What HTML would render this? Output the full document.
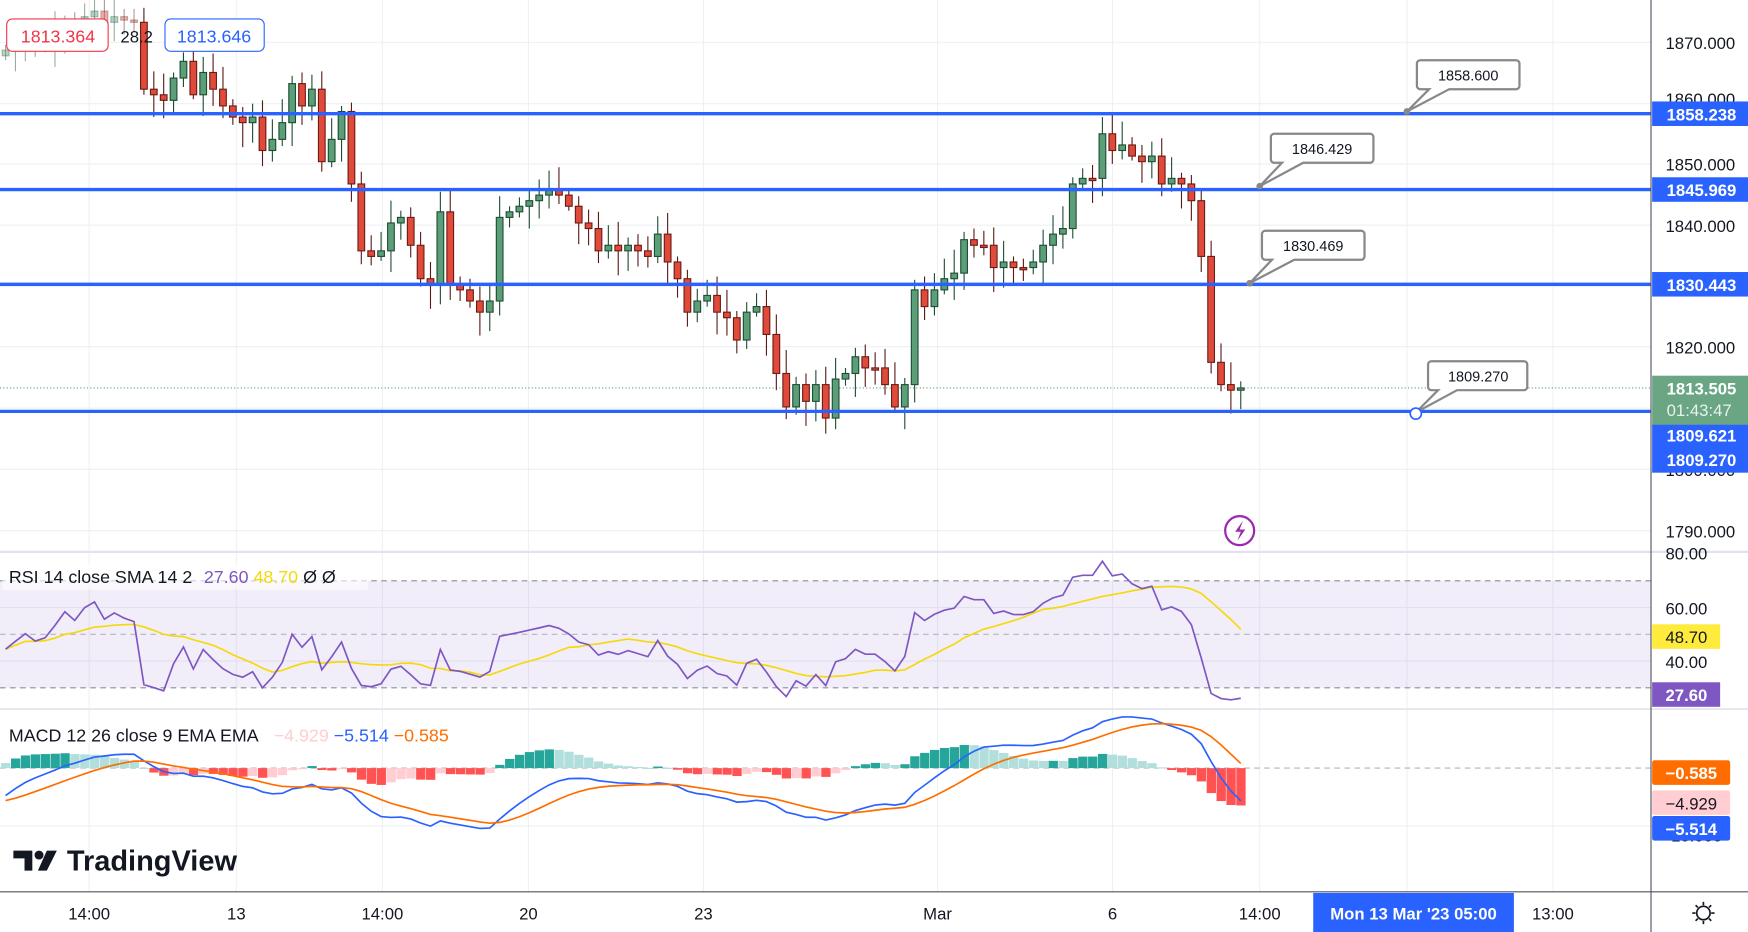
<!DOCTYPE html>
<html><head><meta charset="utf-8"><style>
html,body{margin:0;padding:0;background:#fff;overflow:hidden}
svg{display:block;font-family:"Liberation Sans",sans-serif}
</style></head><body>
<svg id="s" width="1748" height="932" viewBox="0 0 1568 836" xmlns="http://www.w3.org/2000/svg">
<rect width="1568" height="836" fill="#fff"/>
<g id="grid" stroke="#eef0f3" stroke-width="1"></g>
<rect x="0" y="521" width="1481" height="96" fill="#7e57c2" opacity="0.1"/>
<line x1="0" y1="521" x2="1481" y2="521" stroke="#8a8d99" stroke-dasharray="5,4"/>
<line x1="0" y1="569" x2="1481" y2="569" stroke="#b2b5be" stroke-dasharray="5,4"/>
<line x1="0" y1="617" x2="1481" y2="617" stroke="#8a8d99" stroke-dasharray="5,4"/>
<line x1="0" y1="689" x2="1481" y2="689" stroke="#b2b5be" stroke-dasharray="5,4"/>
<line x1="0" y1="348" x2="1481" y2="348" stroke="#5b9e77" stroke-dasharray="1,2"/>
<g id="candles"></g>
<g id="rsi"></g>
<g id="macd"></g>
<g stroke="#2962ff" stroke-width="3">
<line x1="0" y1="102" x2="1481" y2="102"/><line x1="0" y1="170" x2="1481" y2="170"/>
<line x1="0" y1="255" x2="1481" y2="255"/><line x1="0" y1="369" x2="1481" y2="369"/>
</g>
<g font-size="13" fill="#131722" stroke="none" text-anchor="middle">
<path d="M1274,54 h86 a3,3 0 0 1 3,3 v20 a3,3 0 0 1 -3,3 h-60 l-38,20 l20,-20 h-8 a3,3 0 0 1 -3,-3 v-20 a3,3 0 0 1 3,-3z" fill="#fff" stroke="#888" stroke-width="2"/>
<text x="1317" y="72">1858.600</text>
<path d="M1143,120 h86 a3,3 0 0 1 3,3 v20 a3,3 0 0 1 -3,3 h-60 l-39,21 l20,-21 h-7 a3,3 0 0 1 -3,-3 v-20 a3,3 0 0 1 3,-3z" fill="#fff" stroke="#888" stroke-width="2"/>
<text x="1186" y="138">1846.429</text>
<path d="M1135,207 h86 a3,3 0 0 1 3,3 v20 a3,3 0 0 1 -3,3 h-60 l-40,21 l20,-21 h-6 a3,3 0 0 1 -3,-3 v-20 a3,3 0 0 1 3,-3z" fill="#fff" stroke="#888" stroke-width="2"/>
<text x="1178" y="225">1830.469</text>
<path d="M1284,324 h83 a3,3 0 0 1 3,3 v20 a3,3 0 0 1 -3,3 h-60 l-37,20 l20,-20 h-6 a3,3 0 0 1 -3,-3 v-20 a3,3 0 0 1 3,-3z" fill="#fff" stroke="#888" stroke-width="2"/>
<text x="1326" y="342">1809.270</text>
<circle cx="1270" cy="371" r="5" fill="#fff" stroke="#2962ff" stroke-width="1.5"/>
<circle cx="1262" cy="100" r="3" fill="#888"/><circle cx="1130" cy="167" r="3" fill="#888"/><circle cx="1121" cy="254" r="3" fill="#888"/>
</g>
<circle cx="1112" cy="476" r="13" fill="#fff" stroke="#9c27b0" stroke-width="2"/>
<path d="M1115,467 l-7,10 h5 l-3,8 l7,-10 h-5z" fill="#9c27b0"/>
<line x1="0" y1="495" x2="1568" y2="495" stroke="#e0e3eb" stroke-width="2"/>
<line x1="0" y1="636" x2="1568" y2="636" stroke="#e0e3eb" stroke-width="1.5"/>
<line x1="0" y1="800" x2="1568" y2="800" stroke="#50535e" stroke-width="1"/>
<line x1="1481" y1="0" x2="1481" y2="836" stroke="#50535e" stroke-width="1"/>
<g font-size="15" fill="#131722">
<text x="1494" y="44">1870.000</text><text x="1494" y="153">1850.000</text><text x="1494" y="208">1840.000</text>
<text x="1494" y="317">1820.000</text><text x="1494" y="482">1790.000</text><text x="1494" y="94">1860.000</text><text x="1494" y="427">1800.000</text>
<text x="1494" y="502">80.00</text><text x="1494" y="551">60.00</text><text x="1494" y="599">40.00</text><text x="1494" y="755">-10.000</text>
</g>
<g font-size="15" font-weight="bold" fill="#fff">
<rect x="1482" y="91" width="86" height="22" fill="#2962ff"/><text x="1495" y="108">1858.238</text>
<rect x="1482" y="159" width="86" height="22" fill="#2962ff"/><text x="1495" y="176">1845.969</text>
<rect x="1482" y="244" width="86" height="22" fill="#2962ff"/><text x="1495" y="261">1830.443</text>
<rect x="1482" y="337" width="86" height="45" fill="#6aa584"/><text x="1495" y="354">1813.505</text><text x="1495" y="373" font-weight="normal" fill="#e8f3ec">01:43:47</text>
<rect x="1482" y="381" width="86" height="43" fill="#2962ff"/><text x="1495" y="396">1809.621</text><text x="1495" y="418">1809.270</text>
<rect x="1482" y="560" width="61" height="22" fill="#ffeb3b"/><text x="1494" y="577" fill="#131722" font-weight="normal">48.70</text>
<rect x="1482" y="612" width="61" height="22" fill="#7e57c2"/><text x="1494" y="629">27.60</text>
<rect x="1482" y="682" width="70" height="22" fill="#ff6d00" rx="2"/><text x="1494" y="699">−0.585</text>
<rect x="1482" y="709" width="70" height="22" fill="#ffcdd2" rx="2"/><text x="1494" y="726" fill="#131722" font-weight="normal">−4.929</text>
<rect x="1482" y="732" width="70" height="22" fill="#2962ff" rx="2"/><text x="1494" y="749">−5.514</text>
</g>
<g font-size="15" fill="#131722" text-anchor="middle">
<text x="80" y="825">14:00</text><text x="212" y="825">13</text><text x="343" y="825">14:00</text><text x="474" y="825">20</text>
<text x="631" y="825">23</text><text x="841" y="825">Mar</text><text x="998" y="825">6</text><text x="1130" y="825">14:00</text><text x="1393" y="825">13:00</text>
</g>
<rect x="1178" y="801" width="180" height="35" fill="#2962ff"/>
<text x="1268" y="825" font-size="15" fill="#fff" text-anchor="middle" font-weight="bold">Mon 13 Mar '23  05:00</text>
<g transform="translate(1528,819)" stroke="#131722" stroke-width="1.5" fill="none"><circle r="6"/><path d="M0,-10v3M0,7v3M-10,0h3M7,0h3M-7,-7l2,2M5,5l2,2M7,-7l-2,2M-5,5l-2,2"/></g>
<rect x="2" y="505" width="328" height="24" fill="#fff" opacity="0.6"/>
<text x="8" y="523" font-size="16" fill="#131722">RSI 14 close SMA 14 2 <tspan fill="#7e57c2" dx="6">27.60</tspan> <tspan fill="#f5d90a">48.70</tspan> <tspan>Ø Ø</tspan></text>
<text x="8" y="665" font-size="16" fill="#131722">MACD 12 26 close 9 EMA EMA <tspan fill="#ffcdd2" dx="10">−4.929</tspan> <tspan fill="#2962ff">−5.514</tspan> <tspan fill="#ff6d00">−0.585</tspan></text>
<text x="10" y="-3" font-size="16" fill="#131722">Gold Spot / U.S. Dollar · 1h · OANDA   <tspan dx="150">O1812.183 H1813.920 L1811.335 C1813.365 +1.320 (+0.07%)</tspan></text>
<rect x="6" y="17" width="91" height="29" rx="5" fill="#fff" stroke="#f23645"/><text x="52" y="38" font-size="16" fill="#f23645" text-anchor="middle">1813.364</text>
<text x="108" y="38" font-size="15" fill="#131722">28.2</text>
<rect x="148" y="17" width="89" height="29" rx="5" fill="#fff" stroke="#2962ff"/><text x="192" y="38" font-size="16" fill="#2962ff" text-anchor="middle">1813.646</text>
<g fill="#131722"><path d="M12,763h17v18h-7v-11h-10z"/><circle cx="35" cy="767" r="4"/><path d="M42,763h9l-9,18h-8z"/></g>
<text x="60" y="781" font-size="26" font-weight="bold" fill="#131722">TradingView</text>
</svg>
<script>
(function(){
var ys=[45,40,35,40,38,30,20,25,15,10,20,15,18,20,80,85,90,70,55,85,65,80,95,105,110,105,135,125,110,75,95,80,145,125,100,165,225,230,225,200,195,220,250,255,190,255,260,270,280,270,195,190,185,180,175,170,175,185,200,205,225,220,225,220,225,230,210,235,250,280,270,265,280,285,305,280,275,300,335,365,345,360,345,375,340,335,320,330,330,345,365,345,260,275,260,250,245,215,220,220,240,235,240,240,235,220,210,205,165,160,160,120,135,130,140,145,140,165,160,165,180,230,325,345,350,348];
var NS="http://www.w3.org/2000/svg";
function el(p,t,a){var e=document.createElementNS(NS,t);for(var k in a)e.setAttribute(k,a[k]);p.appendChild(e);return e;}
var g=document.getElementById('candles');var step=(1113-5)/(ys.length-1);
var grid=document.getElementById('grid');
[80,212,343,474,631,841,998,1130,1262,1393].forEach(function(x){el(grid,'line',{x1:x,y1:0,x2:x,y2:800});});
[38,93,147,202,257,311,366,421,476,545,593,741].forEach(function(y){el(grid,'line',{x1:0,y1:y,x2:1481,y2:y});});
var prev=ys[0]+5;
for(var i=0;i<ys.length;i++){
 var x=5+i*step,o=prev,c=ys[i];var up=c<o;
 var bt=Math.min(o,c),bb=Math.max(o,c);if(bb-bt<2)bb=bt+2;
 var hi=bt-(5+((i*37)%17)),lo=bb+(4+((i*53)%19));
 var fade=i<14?0.45:1;
 el(g,'line',{x1:x,y1:hi,x2:x,y2:lo,stroke:up?'#1e4d33':'#5a1a14','stroke-width':1,opacity:fade});
 el(g,'rect',{x:x-3,y:bt,width:6,height:bb-bt,fill:up?'#5b9e77':'#e04a3a',stroke:up?'#1e4d33':'#6b1c14','stroke-width':1,opacity:fade});
 prev=c;
}
var pr=ys.map(function(y){return 1870-(y-38)/5.47;});
var ag=0.6,al=0.75,r=[];for(var i=0;i<pr.length;i++){var d=i?pr[i]-pr[i-1]:0;ag=(ag*13+Math.max(d,0))/14;al=(al*13+Math.max(-d,0))/14;r.push(100-100/(1+ag/al));}
var sm=[];for(var i=0;i<r.length;i++){var s=0,n=0;for(var j=Math.max(0,i-13);j<=i;j++){s+=r[j];n++;}sm.push(s/n);}
function ry(v){return Math.max(498,Math.min(634,497+(80-v)*2.4));}
var R=document.getElementById('rsi');
el(R,'polyline',{points:sm.map(function(v,i){return (5+i*step)+','+ry(v);}).join(' '),fill:'none',stroke:'#f5d90a','stroke-width':1.5});
el(R,'polyline',{points:r.map(function(v,i){return (5+i*step)+','+ry(v);}).join(' '),fill:'none',stroke:'#7e57c2','stroke-width':1.5});
var warm=[];for(var k=0;k<40;k++)warm.push(1885-k*0.75);
var all=warm.concat(pr);
function ema(a,n){var kk=2/(n+1),o=[],e=a[0];a.forEach(function(v){e=v*kk+e*(1-kk);o.push(e);});return o;}
var e12=ema(all,12),e26=ema(all,26),mA=all.map(function(v,i){return e12[i]-e26[i];});
var sA=ema(mA,9);var m=mA.slice(40),sg=sA.slice(40),h=m.map(function(v,i){return v-sg[i];});
function my(v){return Math.max(640,Math.min(798,689-v*6.6));}
var M=document.getElementById('macd');
for(var i=0;i<h.length;i++){var x=5+i*step,v=h[i],inc=i&&v>h[i-1];
 var col=v>=0?(inc?'#26a69a':'#b2dfdb'):(inc?'#ffcdd2':'#ff5252');
 var y1=my(Math.max(v,0)),y2=my(Math.min(v,0));if(y2-y1<1)y2=y1+1;
 el(M,'rect',{x:x-4,y:y1,width:step-0.5,height:y2-y1,fill:col});}
el(M,'polyline',{points:m.map(function(v,i){return (5+i*step)+','+my(v);}).join(' '),fill:'none',stroke:'#2962ff','stroke-width':1.5});
el(M,'polyline',{points:sg.map(function(v,i){return (5+i*step)+','+my(v);}).join(' '),fill:'none',stroke:'#ff6d00','stroke-width':1.5});
})();
</script>
</body></html>
